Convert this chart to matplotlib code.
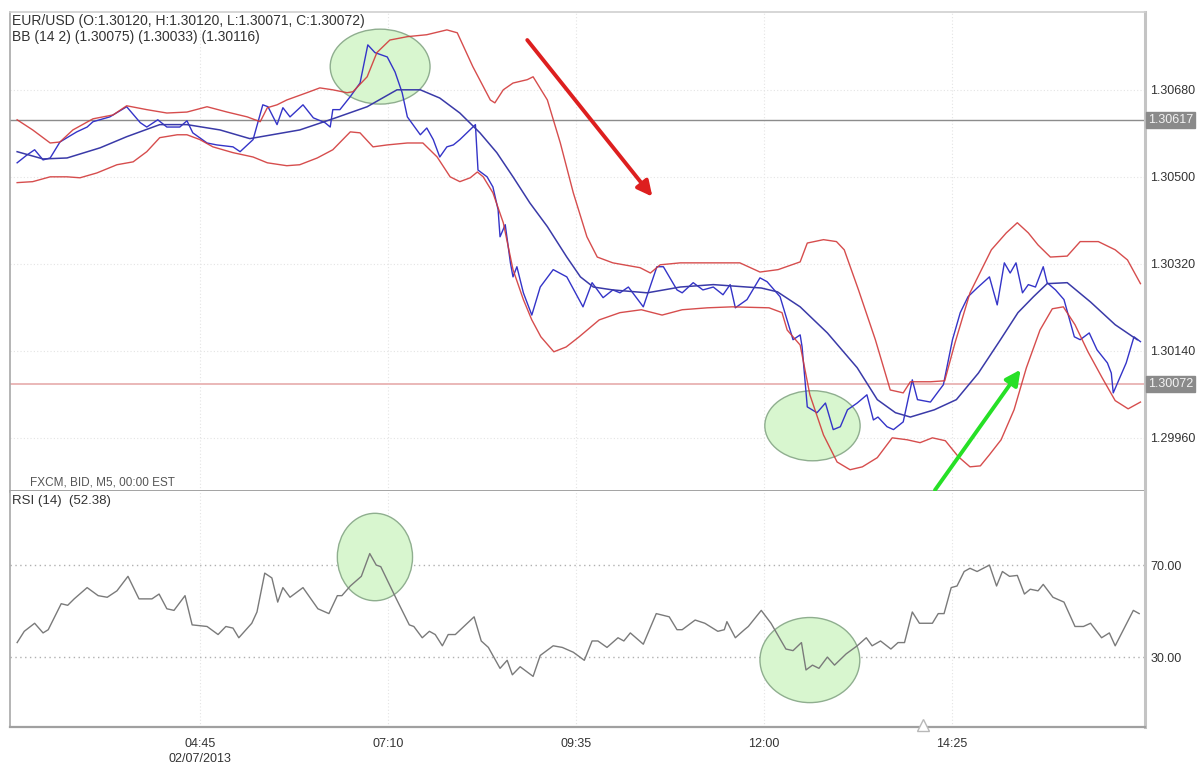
import matplotlib
matplotlib.use('Agg')
import matplotlib.pyplot as plt
import matplotlib.transforms as mtransforms
from matplotlib.patches import Ellipse

plt.rcParams['font.family'] = ['Liberation Sans', 'DejaVu Sans']

# ---------------- data ----------------
tick_bars = [29, 58, 87, 116, 145]
tick_labels = ['04:45\n02/07/2013', '07:10', '09:35', '12:00', '14:25']
price_ticks = [1.29960, 1.30140, 1.30320, 1.30500, 1.30680]
rsi_levels = [30, 70]
last_marks = [1.30617, 1.30072]

price_x = [0.8,2.3,3.5,4.8,5.9,7.4,8.5,10.0,11.6,12.5,
           15.1,17.7,19.8,20.8,22.5,23.9,25.9,27.0,27.9,30.1,
           31.6,34.1,35.2,37.2,38.7,39.5,40.9,41.8,42.9,44.9,
           46.5,48.3,49.1,49.5,50.6,52.2,53.7,54.9,56.0,57.9,
           59.1,60.2,61.0,63.0,64.0,65.0,66.0,67.1,68.1,69.1,
           71.5,71.9,73.3,74.2,75.0,75.3,76.1,76.9,77.3,77.9,
           78.9,80.2,81.5,83.5,85.6,88.1,89.5,91.2,92.7,93.8,
           95.1,97.4,99.5,100.5,102.6,103.4,105.1,106.6,108.2,109.7,
           110.8,111.6,113.4,115.4,116.5,118.5,120.5,121.6,121.9,122.7,
           124.2,125.5,126.7,127.8,128.9,130.4,131.9,132.9,133.6,135.0,
           136.0,137.5,138.9,139.7,141.7,143.7,145.1,146.3,147.5,148.9,
           150.8,152.0,153.1,154.0,154.9,155.9,156.8,157.9,159.1,159.7,
           161.0,162.3,163.9,164.8,166.2,167.4,169.0,169.6,169.9,171.9,
           173.1,174.1]
price_y = [1.30529,1.30545,1.30556,1.30535,1.30539,1.30572,1.30581,1.30593,1.30603,1.30614,
           1.30624,1.30645,1.30612,1.30603,1.30618,1.30603,1.30603,1.30616,1.30591,1.30570,
           1.30566,1.30562,1.30552,1.30577,1.30649,1.30645,1.30608,1.30643,1.30624,1.30649,
           1.30622,1.30612,1.30603,1.30639,1.30639,1.30666,1.30694,1.30773,1.30757,1.30748,
           1.30717,1.30674,1.30624,1.30587,1.30601,1.30577,1.30541,1.30562,1.30566,1.30577,
           1.30608,1.30514,1.30500,1.30479,1.30432,1.30376,1.30401,1.30322,1.30293,1.30314,
           1.30260,1.30214,1.30272,1.30308,1.30293,1.30231,1.30281,1.30250,1.30266,1.30260,
           1.30272,1.30231,1.30314,1.30314,1.30266,1.30260,1.30281,1.30266,1.30272,1.30256,
           1.30277,1.30229,1.30246,1.30291,1.30283,1.30252,1.30163,1.30173,1.30148,1.30024,
           1.30012,1.30032,1.29977,1.29983,1.30018,1.30032,1.30049,1.29997,1.30003,1.29983,
           1.29977,1.29993,1.30080,1.30039,1.30034,1.30070,1.30163,1.30219,1.30252,1.30270,
           1.30293,1.30235,1.30322,1.30301,1.30322,1.30260,1.30277,1.30272,1.30314,1.30281,
           1.30266,1.30246,1.30169,1.30163,1.30177,1.30142,1.30115,1.30094,1.30053,1.30115,
           1.30169,1.30159]

upper_x = [0.8,3.2,5.9,7.4,9.4,12.5,15.6,17.7,20.8,23.9,
           27.0,30.1,33.2,36.3,38.3,39.4,40.9,42.4,45.5,47.5,
           49.5,51.7,52.6,54.8,56.3,58.3,61.0,64.0,67.1,68.7,
           71.1,73.8,74.5,75.8,77.3,79.5,80.4,82.6,84.6,86.6,
           88.7,90.3,92.7,96.9,98.5,100.0,103.1,108.2,112.3,115.4,
           118.2,121.6,122.7,125.2,127.2,128.4,130.6,133.2,135.5,137.5,
           138.6,141.7,143.9,145.5,147.8,151.1,153.4,155.1,156.8,158.3,
           160.2,162.8,164.8,167.6,170.2,172.1,174.1]
upper_y = [1.30618,1.30597,1.30570,1.30572,1.30597,1.30620,1.30628,1.30647,1.30639,1.30632,
           1.30634,1.30645,1.30634,1.30624,1.30614,1.30643,1.30649,1.30659,1.30674,1.30684,
           1.30680,1.30674,1.30676,1.30707,1.30757,1.30783,1.30790,1.30794,1.30804,1.30798,
           1.30728,1.30659,1.30653,1.30680,1.30694,1.30701,1.30707,1.30659,1.30570,1.30467,
           1.30376,1.30334,1.30322,1.30312,1.30301,1.30318,1.30322,1.30322,1.30322,1.30303,
           1.30308,1.30324,1.30363,1.30370,1.30366,1.30349,1.30266,1.30163,1.30059,1.30053,
           1.30076,1.30076,1.30078,1.30157,1.30260,1.30349,1.30384,1.30405,1.30384,1.30359,
           1.30334,1.30336,1.30366,1.30366,1.30349,1.30328,1.30279]

middle_x = [0.8,4.8,8.5,13.6,17.7,22.8,27.0,32.1,36.7,44.4,
            49.5,54.8,59.4,63.0,66.0,69.1,72.2,74.8,77.3,79.9,
            82.6,85.6,87.7,89.7,92.7,98.0,103.1,108.2,113.4,115.6,
            118.1,121.6,125.8,130.4,133.5,136.3,138.6,142.3,145.7,149.1,
            152.5,155.2,157.6,159.7,162.8,166.4,170.2,173.6]
middle_y = [1.30552,1.30537,1.30539,1.30560,1.30583,1.30608,1.30608,1.30597,1.30579,1.30597,
            1.30620,1.30645,1.30680,1.30680,1.30663,1.30632,1.30591,1.30550,1.30500,1.30446,
            1.30397,1.30334,1.30293,1.30272,1.30266,1.30260,1.30272,1.30277,1.30272,1.30270,
            1.30262,1.30231,1.30177,1.30105,1.30039,1.30012,1.30003,1.30018,1.30039,1.30094,
            1.30163,1.30219,1.30252,1.30279,1.30281,1.30241,1.30194,1.30163]

lower_x = [0.8,3.2,5.9,8.5,10.5,13.1,16.2,18.7,20.8,22.8,
           25.5,27.0,29.0,31.0,34.1,37.2,39.4,42.4,44.4,47.1,
           49.5,52.2,53.7,55.7,57.9,61.0,63.4,65.6,67.6,69.1,
           70.7,71.8,72.7,74.2,75.8,77.3,78.9,80.2,81.6,83.6,
           85.5,87.5,90.6,93.8,97.1,100.3,103.4,107.3,111.1,116.8,
           118.8,119.6,121.6,123.1,125.2,127.3,129.3,131.2,133.5,135.8,
           138.1,140.1,142.0,144.0,146.0,147.8,149.4,150.8,152.6,154.6,
           156.5,158.6,160.5,162.2,164.0,166.0,168.2,170.2,172.2,174.1]
lower_y = [1.30488,1.30490,1.30500,1.30500,1.30498,1.30508,1.30525,1.30531,1.30552,1.30581,
           1.30587,1.30587,1.30577,1.30562,1.30550,1.30541,1.30529,1.30523,1.30525,1.30539,
           1.30556,1.30593,1.30591,1.30562,1.30566,1.30570,1.30570,1.30541,1.30500,1.30490,
           1.30498,1.30510,1.30500,1.30467,1.30405,1.30308,1.30246,1.30204,1.30169,1.30138,
           1.30148,1.30169,1.30204,1.30219,1.30225,1.30214,1.30225,1.30229,1.30231,1.30229,
           1.30219,1.30183,1.30152,1.30049,1.29966,1.29910,1.29894,1.29900,1.29919,1.29960,
           1.29956,1.29950,1.29960,1.29954,1.29921,1.29900,1.29902,1.29925,1.29956,1.30018,
           1.30105,1.30183,1.30227,1.30231,1.30194,1.30138,1.30084,1.30037,1.30020,1.30034]

rsi_x = [0.8,1.9,3.5,4.8,5.6,7.6,8.6,9.6,11.6,13.3,
         14.7,16.2,17.9,19.6,21.6,22.7,23.9,25.0,26.7,27.8,
         30.1,31.8,33.0,34.1,35.0,37.0,37.8,39.0,40.1,41.0,
         41.8,42.9,44.9,47.2,48.9,50.2,50.9,52.2,53.9,55.2,
         56.2,56.9,59.3,61.3,62.0,63.3,64.4,65.3,66.4,67.3,
         68.4,71.3,72.4,73.5,75.3,76.4,77.2,78.4,80.4,81.5,
         83.5,84.9,86.6,88.3,89.5,90.4,91.8,93.5,94.4,95.4,
         97.4,99.4,101.4,102.6,103.4,105.4,106.9,108.9,109.9,110.3,
         111.6,113.0,113.6,115.6,117.1,119.4,120.5,121.8,122.5,123.5,
         124.5,125.8,126.9,128.7,130.4,131.8,132.7,134.0,135.6,136.7,
         137.7,138.9,140.0,142.0,142.9,143.8,144.9,145.8,146.9,147.8,
         148.9,150.8,151.9,152.8,153.9,155.1,156.2,157.1,158.3,159.1,
         160.6,162.3,164.0,165.3,166.4,168.1,169.3,170.2,171.6,173.0,
         173.9]
rsi_y = [36.3,41.2,44.7,40.5,41.9,53.2,52.5,55.3,60.2,56.7,
         56.0,58.8,65.1,55.3,55.3,57.4,51.0,50.3,56.7,44.0,
         43.3,39.8,43.3,42.6,38.4,44.7,49.6,66.5,64.4,53.9,
         60.2,56.0,60.2,51.0,48.9,56.7,56.7,60.9,65.1,75.0,
         70.0,69.3,55.3,44.0,43.3,38.4,41.2,39.8,34.9,39.8,
         39.8,47.5,37.0,34.2,25.1,28.6,22.3,25.8,21.6,30.7,
         34.9,34.2,32.1,28.6,37.0,37.0,34.2,38.4,37.0,40.5,
         35.6,48.9,47.5,41.9,41.9,46.1,44.7,41.2,41.9,45.4,
         38.4,41.9,43.3,50.3,44.7,33.5,32.8,36.3,24.4,26.5,
         25.1,30.0,26.5,31.4,34.9,38.4,34.9,37.0,33.5,36.3,
         36.3,49.6,44.7,44.7,48.9,48.9,60.2,60.9,67.2,68.6,
         67.2,70.0,60.9,67.2,65.1,65.5,57.4,59.5,58.8,61.6,
         56.0,53.9,43.3,43.3,44.7,38.4,40.5,34.9,42.6,50.3,
         48.9]

# ---------------- figure ----------------
W, H = 1202, 764
fig = plt.figure(figsize=(W / 100, H / 100), dpi=100)
fig.patch.set_facecolor('white')

ax = fig.add_axes([10 / W, 1 - 491 / H, 1135 / W, 479 / H])
ax2 = fig.add_axes([10 / W, 1 - 727 / H, 1135 / W, 236 / H], sharex=ax)

XMIN, XMAX = -0.3, 174.8
ax.set_xlim(XMIN, XMAX)
ax.set_ylim(1.29850, 1.30841)
ax2.set_ylim(-0.4, 102.2)

BLUE = '#3434c8'
NAVY = '#3a3aa8'
RED = '#d23a3a'
GRID = '#e4e4e4'
TXT = '#333333'

for a in (ax, ax2):
    a.set_facecolor('white')
    for b in tick_bars:
        a.axvline(b, color=GRID, lw=0.8, ls=(0, (1, 2)), zorder=0)
    for s in a.spines.values():
        s.set_color('#a8a8a8')
        s.set_linewidth(1.2)
    a.spines['right'].set_color('#c4c4c4')
    a.spines['right'].set_linewidth(2.2)
    a.tick_params(axis='both', length=0)
    a.yaxis.tick_right()

ax.spines['bottom'].set_color('#9a9a9a')
ax.spines['bottom'].set_linewidth(2.0)
ax.spines['top'].set_color('#d0d0d0')
ax2.spines['top'].set_visible(False)
ax2.spines['bottom'].set_color('#a0a0a0')
ax2.spines['bottom'].set_linewidth(1.6)

# horizontal grid
for p in price_ticks:
    ax.axhline(p, color=GRID, lw=0.8, ls=(0, (1, 2)), zorder=0)

# reference lines
ax.axhline(last_marks[0], color='#8c8c8c', lw=1.0, zorder=1)
ax.axhline(last_marks[1], color='#eab8b8', lw=1.4, zorder=1)

# ellipses (behind lines)
ell_fc = '#d8f6cf'
ell_ec = '#8fae8f'
ax.add_patch(Ellipse((56.8, 1.30728), 15.4, 0.00155, fc=ell_fc, ec=ell_ec, lw=1.0, zorder=1.5))
ax.add_patch(Ellipse((123.5, 1.29985), 14.7, 0.00145, fc=ell_fc, ec=ell_ec, lw=1.0, zorder=1.5))
ax2.add_patch(Ellipse((56.0, 73.5), 11.6, 38, fc=ell_fc, ec=ell_ec, lw=1.0, zorder=1.5))
ax2.add_patch(Ellipse((123.1, 28.7), 15.4, 37, fc=ell_fc, ec=ell_ec, lw=1.0, zorder=1.5))

# price and bands
ax.plot(price_x, price_y, color=BLUE, lw=1.0, zorder=3)
ax.plot(middle_x, middle_y, color=NAVY, lw=1.1, zorder=3)
ax.plot(upper_x, upper_y, color=RED, lw=1.0, zorder=4, alpha=0.9)
ax.plot(lower_x, lower_y, color=RED, lw=1.0, zorder=4, alpha=0.9)

# arrows
ax.annotate('', xy=(98.8, 1.30459), xytext=(79.5, 1.30783),
            arrowprops=dict(arrowstyle='-|>,head_length=0.9,head_width=0.45',
                            color='#dd1f1f', lw=2.8, shrinkA=0, shrinkB=0), zorder=6)
ax.annotate('', xy=(155.6, 1.30101), xytext=(142.4, 1.29852),
            arrowprops=dict(arrowstyle='-|>,head_length=0.9,head_width=0.45',
                            color='#26e026', lw=2.8, shrinkA=0, shrinkB=0), zorder=6,
            annotation_clip=False)

# y ticks
ax.set_yticks(price_ticks)
ax.set_yticklabels(['%.5f' % p for p in price_ticks], fontsize=9, color=TXT)
ax.tick_params(axis='y', pad=4)
plt.setp(ax.get_xticklabels(), visible=False)

trans = mtransforms.blended_transform_factory(ax.transAxes, ax.transData)
for v in last_marks:
    ax.text(1.0025, v, '%.5f' % v, transform=trans, ha='left', va='center',
            fontsize=9, color='#f2f2f2', zorder=10, clip_on=False,
            bbox=dict(boxstyle='square,pad=0.15', fc='#8a8a8a', ec='#8a8a8a'))

# header texts
ax.text(0.002, 0.995, 'EUR/USD (O:1.30120, H:1.30120, L:1.30071, C:1.30072)',
        transform=ax.transAxes, ha='left', va='top', fontsize=10, color=TXT)
ax.text(0.002, 0.962, 'BB (14 2) (1.30075) (1.30033) (1.30116)',
        transform=ax.transAxes, ha='left', va='top', fontsize=10, color=TXT)
ax.text(0.018, 0.006, 'FXCM, BID, M5, 00:00 EST',
        transform=ax.transAxes, ha='left', va='bottom', fontsize=8.5, color='#555555')

# RSI panel
for lv in rsi_levels:
    ax2.axhline(lv, color='#b0b0b0', lw=1.0, ls=(0, (1, 2.5)), zorder=1)
ax2.plot(rsi_x, rsi_y, color='#7a7a7a', lw=1.0, zorder=3)
ax2.plot([140.6], [0.6], marker='^', ms=9, mfc='white', mec='#b8b8b8', mew=1.0,
         zorder=4, clip_on=False)
ax2.set_yticks(rsi_levels)
ax2.set_yticklabels(['%.2f' % v for v in rsi_levels], fontsize=9, color=TXT)
ax2.tick_params(axis='y', pad=4)
ax2.text(0.002, 0.985, 'RSI (14)  (52.38)', transform=ax2.transAxes,
         ha='left', va='top', fontsize=9.5, color=TXT)

ax2.set_xticks(tick_bars)
ax2.set_xticklabels(tick_labels, fontsize=9, color=TXT, linespacing=1.3)
ax2.tick_params(axis='x', pad=8)
ax2.set_xlim(XMIN, XMAX)

fig.savefig('out.png', dpi=100, facecolor='white')
